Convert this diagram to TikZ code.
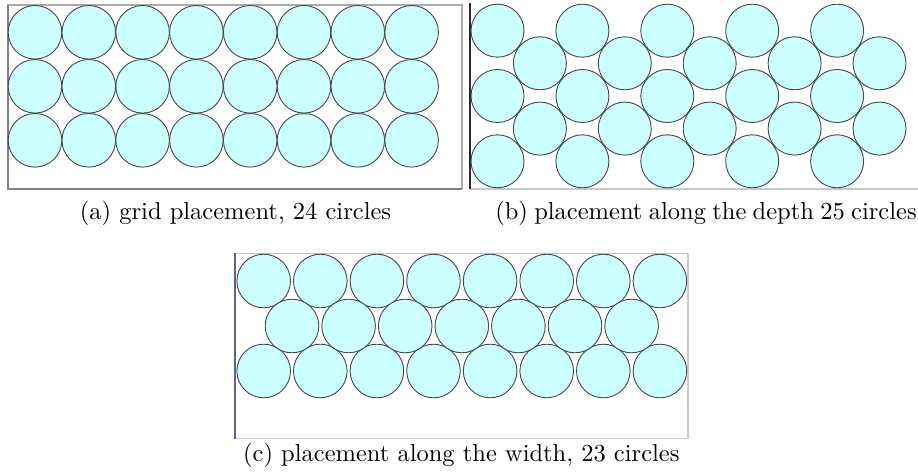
\documentclass[tikz,border=0pt]{standalone}
\usepackage{tikz}
\definecolor{discfill}{RGB}{204,255,255}
\definecolor{discline}{RGB}{70,70,70}
\definecolor{frameA}{RGB}{128,128,128}
\definecolor{frameAlight}{RGB}{170,170,170}
\definecolor{frameBdark}{RGB}{40,40,40}
\definecolor{frameBlight}{RGB}{200,200,200}
\definecolor{frameCleft}{RGB}{100,96,150}
\definecolor{frameCtop}{RGB}{190,190,230}
\definecolor{frameClight}{RGB}{205,205,205}
\tikzset{
  disc/.style={circle, draw=discline, fill=discfill, line width=0.9pt, inner sep=0pt, minimum size=#1},
  disc/.default=53.6pt,
  captiontext/.style={anchor=base, inner sep=0pt, font=\fontsize{10}{12}\selectfont}
}
\newcommand{\capscaled}[1]{\scalebox{2.45}{#1}}
\begin{document}
\begin{tikzpicture}[x=1pt,y=-1pt]
\useasboundingbox (0,0) rectangle (918,476);
% ---------- panel (a) ----------
\draw[frameAlight, line width=1.2pt] (7.5,189) -- (7.5,5) -- (462,5) -- (462,189);
\draw[frameA, line width=2pt] (7.5,5) -- (7.5,189) -- (462,189);
\foreach \r/\yy in {1/32.3,2/86.3,3/140.3}{
  \foreach \c in {0,...,7}{
    \node[disc] (a-\r-\c) at ({35+53.8*\c},\yy) {};
  }
}
\node[captiontext] (capa) at (235.5,219.3) {\capscaled{(a) grid placement, 24 circles}};
% ---------- panel (b) ----------
\draw[frameBlight, line width=1.5pt] (470,189) -- (918,189);
\draw[frameBdark, line width=2pt] (470,3) -- (470,189);
\foreach \c in {0,...,4}{
  \foreach \r/\yy in {1/30.7,2/96,3/161.3}{
    \node[disc=53pt] (bA-\r-\c) at ({497.5+84.9*\c},\yy) {};
  }
  \foreach \r/\yy in {1/63.3,2/128.6}{
    \node[disc=53pt] (bB-\r-\c) at ({539.9+84.9*\c},\yy) {};
  }
}
\node[captiontext] (capb) at (706,219.3) {\capscaled{\makebox[172pt][s]{(b) placement along the depth 25 circles}}};
% ---------- panel (c) ----------
\draw[frameClight, line width=1.2pt] (235,438.5) -- (687.5,438.5);
\draw[frameClight, line width=2pt] (687.5,253.5) -- (687.5,438.5);
\draw[frameCtop, line width=1.5pt] (235,253.5) -- (687.5,253.5);
\draw[frameCleft, line width=2.2pt] (235,252.5) -- (235,439);
\foreach \c in {0,...,7}{
  \node[disc] (c-1-\c) at ({263.7+56.6*\c},281) {};
  \node[disc] (c-3-\c) at ({263.7+56.6*\c},371) {};
}
\foreach \c in {0,...,6}{
  \node[disc] (c-2-\c) at ({292+56.6*\c},326) {};
}
\node[captiontext] (capc) at (461.3,461) {\capscaled{(c) placement along the width, 23 circles}};
\end{tikzpicture}
\end{document}
